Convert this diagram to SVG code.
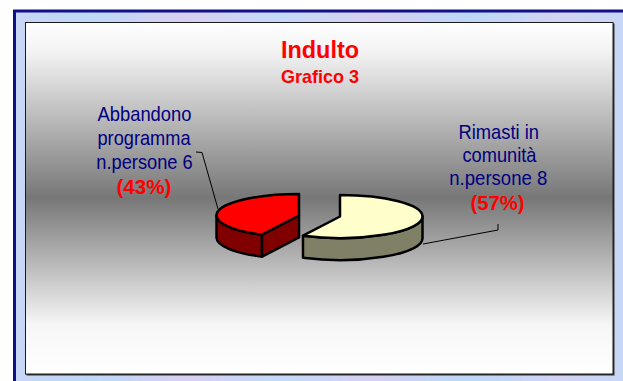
<svg xmlns="http://www.w3.org/2000/svg" width="623" height="381" viewBox="0 0 623 381">
  <defs>
    <linearGradient id="frameGrad" x1="0" y1="0" x2="623" y2="0" gradientUnits="userSpaceOnUse">
      <stop offset="0" stop-color="#C9D6F4"/>
      <stop offset="0.15" stop-color="#BFD8F6"/>
      <stop offset="0.3" stop-color="#D8CFF2"/>
      <stop offset="0.45" stop-color="#C4DAF7"/>
      <stop offset="0.6" stop-color="#D6D0F1"/>
      <stop offset="0.75" stop-color="#BDD7F6"/>
      <stop offset="0.9" stop-color="#D3D3F3"/>
      <stop offset="1" stop-color="#C6D8F6"/>
    </linearGradient>
    <linearGradient id="panelGrad" x1="0" y1="22" x2="0" y2="374" gradientUnits="userSpaceOnUse">
      <stop offset="0" stop-color="#FFFFFF"/>
      <stop offset="0.08" stop-color="#F4F4F4"/>
      <stop offset="0.5" stop-color="#777777"/>
      <stop offset="0.86" stop-color="#F6F6F6"/>
      <stop offset="1" stop-color="#FFFFFF"/>
    </linearGradient>
    <style>
      .lbl { font-family: "Liberation Sans", Arial, sans-serif; font-size: 21px; fill: #000080; text-anchor: middle; }
      .pct { font-family: "Liberation Sans", Arial, sans-serif; font-size: 21px; font-weight: bold; fill: #FF0000; text-anchor: middle; }
      .ttl { font-family: "Liberation Sans", Arial, sans-serif; font-weight: bold; fill: #FF0000; text-anchor: middle; }
      .edge { stroke: #000000; stroke-width: 2.5; stroke-linejoin: round; }
      .lead { fill: none; stroke: #000000; stroke-width: 1; }
    </style>
  </defs>

  <g id="background">
    <rect x="0" y="0" width="623" height="381" fill="#FFFFFF"/>
    <rect x="13" y="10" width="620" height="380" fill="url(#frameGrad)"/>
    <path d="M14.5,381 L14.5,11 L623,11" fill="none" stroke="#10108A" stroke-width="3"/>
    <rect x="26.5" y="23.5" width="588" height="352" fill="#333333"/>
    <rect x="25.5" y="22.5" width="587.5" height="351.5" fill="url(#panelGrad)" stroke="#1A1A1A" stroke-width="1"/>
  </g>

  <g id="title">
    <text class="ttl" x="320" y="57.5" font-size="24" textLength="78" lengthAdjust="spacingAndGlyphs">Indulto</text>
    <text class="ttl" x="320" y="83" font-size="18.5" textLength="78" lengthAdjust="spacingAndGlyphs">Grafico 3</text>
  </g>

  <g id="connectors">
    <path class="lead" d="M196,152 L202,152.5 L218,209"/>
    <path class="lead" d="M423,244 L498,230 L498,224"/>
  </g>

  <g id="slice-abbandono">
    <path class="edge" fill="#800000" d="M216.5,215.5 A82.5,21.5 0 0 0 262,234.7 L262,256.7 A82.5,21.5 0 0 1 216.5,237.5 Z"/>
    <path class="edge" fill="#800000" d="M262,234.7 L299,215.5 L299,237.5 L262,256.7 Z"/>
    <path class="edge" fill="#FF0000" d="M299,194 A82.5,21.5 0 0 0 216.5,215.5 A82.5,21.5 0 0 0 262,234.7 L299,215.5 Z"/>
  </g>

  <g id="slice-rimasti">
    <path class="edge" fill="#808066" d="M422.5,216.5 A82.5,21.5 0 0 1 303,235.7 L303,257.7 A82.5,21.5 0 0 0 422.5,238.5 Z"/>
    <path class="edge" fill="#FFFFCC" d="M340,195 A82.5,21.5 0 0 1 422.5,216.5 A82.5,21.5 0 0 1 303,235.7 L340,216.5 Z"/>
  </g>

  <g id="label-abbandono">
    <text class="lbl" x="144.5" y="121" textLength="94" lengthAdjust="spacingAndGlyphs">Abbandono</text>
    <text class="lbl" x="144" y="145" textLength="93" lengthAdjust="spacingAndGlyphs">programma</text>
    <text class="lbl" x="144.5" y="169" textLength="96.5" lengthAdjust="spacingAndGlyphs">n.persone 6</text>
    <text class="pct" x="144" y="194" textLength="55" lengthAdjust="spacingAndGlyphs">(43%)</text>
  </g>

  <g id="label-rimasti">
    <text class="lbl" x="498.7" y="139" textLength="80.5" lengthAdjust="spacingAndGlyphs">Rimasti in</text>
    <text class="lbl" x="499.5" y="162" textLength="74" lengthAdjust="spacingAndGlyphs">comunità</text>
    <text class="lbl" x="498.3" y="185" textLength="98" lengthAdjust="spacingAndGlyphs">n.persone 8</text>
    <text class="pct" x="497.5" y="210" textLength="54" lengthAdjust="spacingAndGlyphs">(57%)</text>
  </g>
</svg>
